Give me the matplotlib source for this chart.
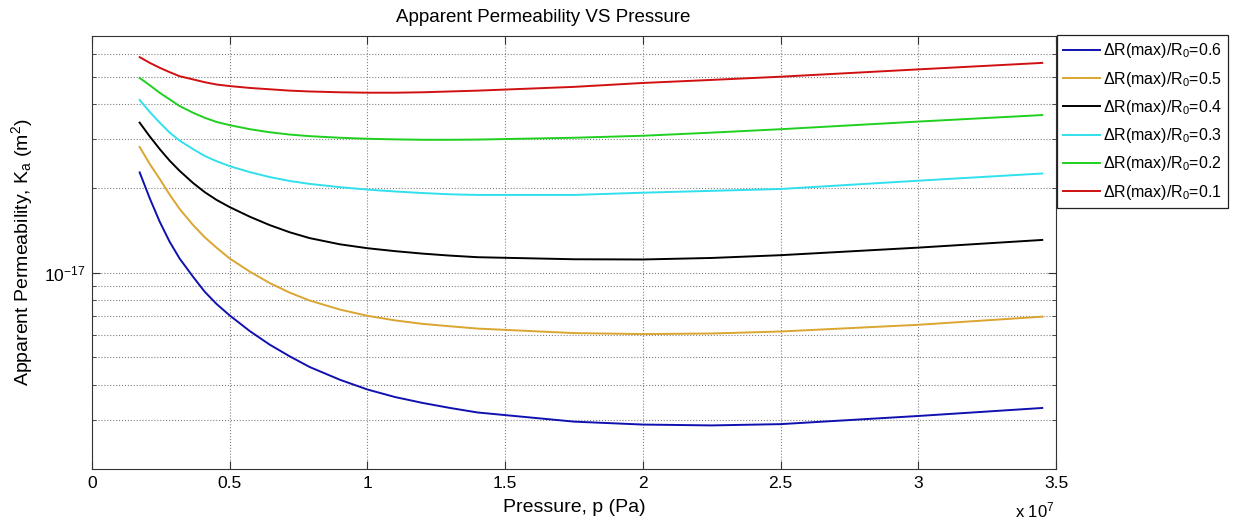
import numpy as np
import matplotlib
matplotlib.use('Agg')
import matplotlib.pyplot as plt
import matplotlib.ticker as ticker

plt.rcParams['font.family'] = ['Liberation Sans', 'DejaVu Sans']
plt.rcParams['mathtext.fontset'] = 'custom'
plt.rcParams['mathtext.rm'] = 'Liberation Sans'
plt.rcParams['mathtext.it'] = 'Liberation Sans:italic'

# pressure (x 1e7 Pa)
pressure = [0.173, 0.21, 0.246, 0.282, 0.318, 0.367, 0.409, 0.452, 0.5, 0.573, 0.645, 0.718, 0.79,
            0.9, 1.0, 1.1, 1.2, 1.3, 1.4, 1.75, 2.0, 2.25, 2.5, 3.0, 3.45]

# apparent permeability
k_06 = [22.8, 18.4, 15.2, 12.9, 11.25, 9.68, 8.57, 7.75, 7.05, 6.20, 5.55, 5.04, 4.62,
        4.16, 3.84, 3.61, 3.44, 3.30, 3.18, 2.95, 2.88, 2.86, 2.89, 3.09, 3.30]   # e-18
k_05 = [28.1, 24.4, 21.6, 19.0, 16.9, 14.8, 13.4, 12.3, 11.25, 10.1, 9.2, 8.5, 7.97,
        7.40, 7.03, 6.77, 6.58, 6.45, 6.33, 6.10, 6.05, 6.08, 6.18, 6.53, 6.98]   # e-18
k_04 = [3.43, 3.06, 2.76, 2.51, 2.31, 2.09, 1.94, 1.82, 1.715, 1.585, 1.48, 1.395, 1.33,
        1.264, 1.224, 1.195, 1.171, 1.152, 1.137, 1.118, 1.116, 1.13, 1.156, 1.23, 1.31]  # e-17
k_03 = [4.13, 3.74, 3.43, 3.16, 2.96, 2.76, 2.61, 2.50, 2.40, 2.285, 2.195, 2.125, 2.075,
        2.02, 1.98, 1.95, 1.925, 1.905, 1.895, 1.895, 1.93, 1.96, 1.99, 2.13, 2.26]   # e-17
k_02 = [4.95, 4.66, 4.38, 4.15, 3.93, 3.72, 3.57, 3.45, 3.36, 3.25, 3.17, 3.11, 3.07,
        3.03, 3.005, 2.99, 2.98, 2.98, 2.985, 3.03, 3.08, 3.16, 3.25, 3.46, 3.65]   # e-17
k_01 = [5.87, 5.60, 5.38, 5.19, 5.02, 4.89, 4.78, 4.69, 4.63, 4.56, 4.51, 4.46, 4.43,
        4.40, 4.385, 4.385, 4.40, 4.43, 4.46, 4.60, 4.75, 4.87, 5.00, 5.31, 5.60]   # e-17

ratios = ['0.6', '0.5', '0.4', '0.3', '0.2', '0.1']
colors = ['#1010B0', '#DAA530', '#000000', '#30E0EC', '#20D020', '#D01010']

x = np.array(pressure) * 1e7
series = [np.array(k_06) * 1e-18, np.array(k_05) * 1e-18,
          np.array(k_04) * 1e-17, np.array(k_03) * 1e-17,
          np.array(k_02) * 1e-17, np.array(k_01) * 1e-17]

fig = plt.figure(figsize=(12.35, 5.25), dpi=100)
ax = fig.add_axes([92 / 1235, 1 - 469 / 525, 964 / 1235, 433.3 / 525])

for y, r, c in zip(series, ratios, colors):
    ax.plot(x, y, color=c, lw=1.4, label=r'$\Delta$R(max)/R$_0$=' + r)

ax.set_yscale('log')
ax.set_xlim(0, 3.5e7)
ax.set_ylim(2e-18, 7e-17)

ax.xaxis.set_major_locator(ticker.MultipleLocator(0.5e7))
ax.xaxis.set_major_formatter(ticker.FuncFormatter(lambda v, p: f'{v / 1e7:g}'))
ax.yaxis.set_major_locator(ticker.FixedLocator([1e-17]))
ax.yaxis.set_major_formatter(ticker.FixedFormatter([r'10$^{-17}$']))
minor_y = [m * 1e-18 for m in range(3, 10)] + [m * 1e-17 for m in range(2, 7)]
ax.yaxis.set_minor_locator(ticker.FixedLocator(minor_y))
ax.yaxis.set_minor_formatter(ticker.NullFormatter())

ax.grid(True, which='major', axis='x', color='#808080', linestyle=':', lw=0.8)
ax.grid(True, which='both', axis='y', color='#808080', linestyle=':', lw=0.8)

ax.tick_params(which='both', direction='in', top=True, right=True, color='#333333', labelsize=12.5)
ax.tick_params(which='major', length=6, pad=5)
ax.tick_params(which='minor', length=3)
for s in ax.spines.values():
    s.set_color('#333333')

ax.set_xlabel('Pressure, p (Pa)', fontsize=14, labelpad=6)
ax.set_ylabel(r'Apparent Permeability, K$_\mathrm{a}$ (m$^2$)', fontsize=14, labelpad=6)
ax.set_title('Apparent Permeability VS Pressure', fontsize=13.5, x=(543 - 92) / 964, pad=10)
fig.text(1015 / 1235, 1 - 520 / 525, r'x 10$^7$', fontsize=12, ha='left', va='bottom')

leg = ax.legend(loc='upper left', bbox_to_anchor=(1057 / 1235, 1 - 35 / 525),
                bbox_transform=fig.transFigure, fancybox=False, framealpha=1,
                edgecolor='#222222', fontsize=11.5, handlelength=2.3,
                labelspacing=0.58, borderaxespad=0, borderpad=0.4, handletextpad=0.15)
leg.get_frame().set_linewidth(0.9)

fig.savefig('out.png', dpi=100)
